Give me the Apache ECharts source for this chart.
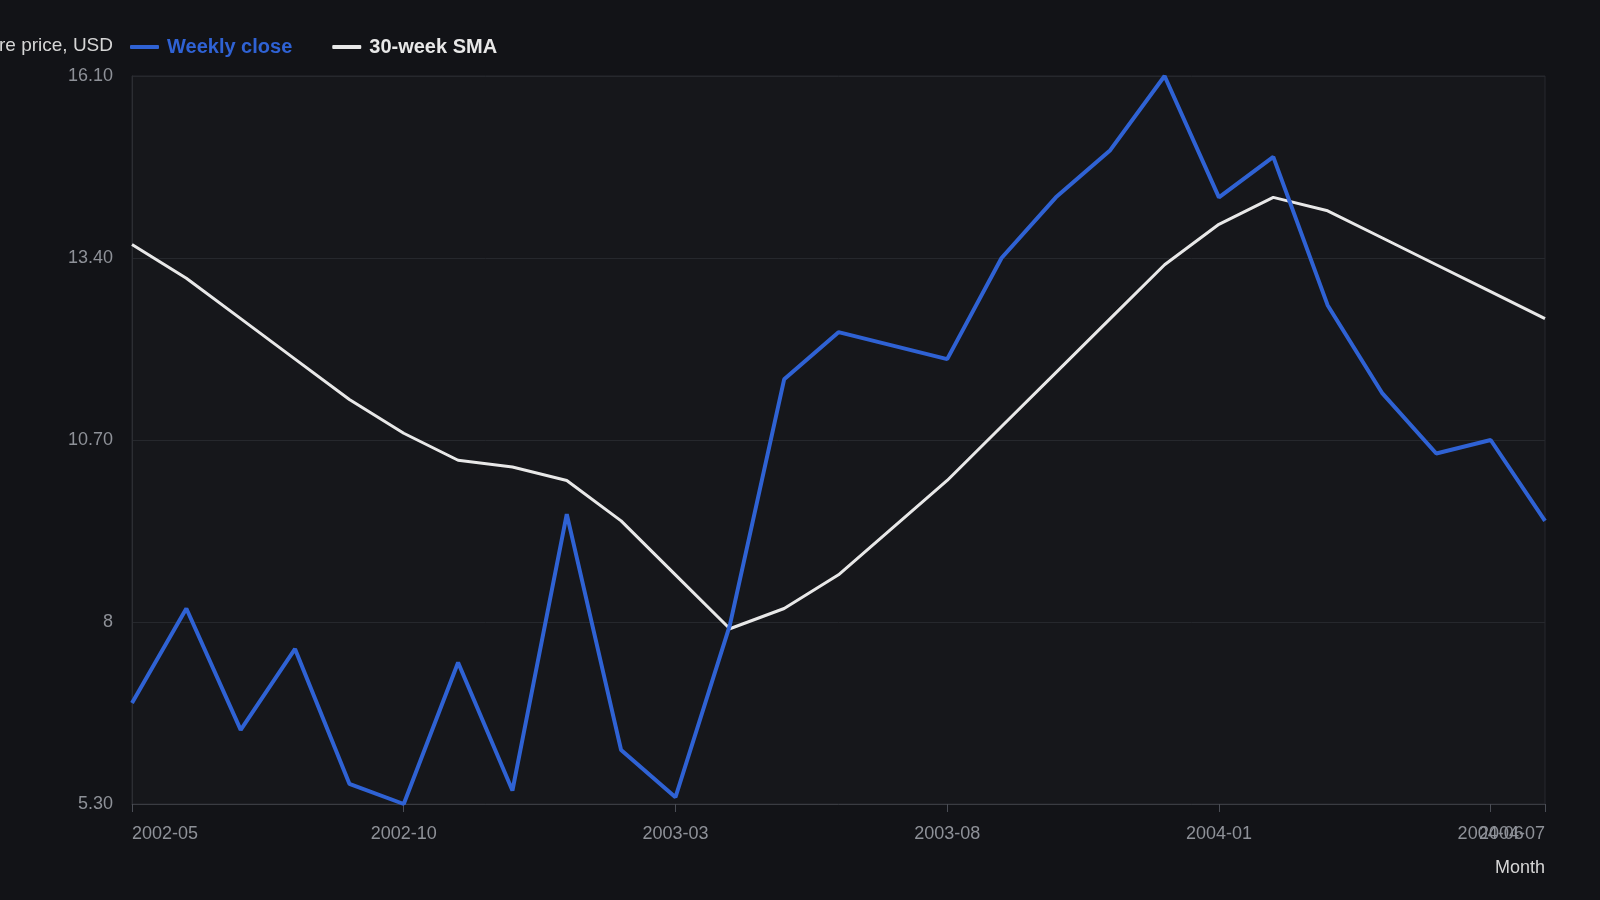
<!DOCTYPE html>
<html>
<head>
<meta charset="utf-8">
<script src="https://cdn.jsdelivr.net/npm/echarts@6/dist/echarts.min.js"></script>
<style>
html,body{margin:0;padding:0;background:#121317;}
#chart{width:1600px;height:900px;}
</style>
</head>
<body>
<div id="chart"></div>
<script>
const months = ['2002-05','2002-06','2002-07','2002-08','2002-09','2002-10','2002-11','2002-12',
  '2003-01','2003-02','2003-03','2003-04','2003-05','2003-06','2003-07','2003-08','2003-09',
  '2003-10','2003-11','2003-12','2004-01','2004-02','2004-03','2004-04','2004-05','2004-06','2004-07'];
const weeklyClose = [6.8, 8.2, 6.4, 7.6, 5.6, 5.3, 7.4, 5.5, 9.6, 6.1, 5.4, 7.95, 11.6, 12.3, 12.1, 11.9,
  13.4, 14.3, 15.0, 16.1, 14.3, 14.9, 12.7, 11.4, 10.5, 10.7, 9.5];
const sma30 = [13.6, 13.1, 12.5, 11.9, 11.3, 10.8, 10.4, 10.3, 10.1, 9.5, 8.7, 7.9, 8.2, 8.7, 9.4, 10.1,
  10.9, 11.7, 12.5, 13.3, 13.9, 14.3, 14.1, 13.7, 13.3, 12.9, 12.5];
const yTickLabels = ['5.30', '8', '10.70', '13.40', '16.10'];
const yMin = 5.3, yMax = 16.1, yStep = 2.7;

const BLUE = '#2f62d4';
const WHITE = '#e8e8e8';

const lastIdx = months.length - 1;
const showLabel = function (i) { return i % 5 === 0 || i === lastIdx; };

const chart = echarts.init(document.getElementById('chart'));
chart.setOption({
  backgroundColor: '#121317',
  textStyle: { fontFamily: 'Liberation Sans, Arial, sans-serif' },
  animation: false,
  grid: {
    left: 132, right: 55, top: 76, bottom: 96,
    show: true, backgroundColor: '#16171b', borderColor: '#27292e', borderWidth: 1,
    containLabel: false, outerBoundsMode: 'none'
  },
  legend: {
    left: 130, top: 37, padding: 0,
    icon: 'roundRect',
    itemWidth: 29, itemHeight: 4, itemGap: 40,
    textStyle: { fontSize: 20, fontWeight: 'bold', padding: [0, 0, 0, 3] },
    data: [
      { name: 'Weekly close', textStyle: { color: BLUE } },
      { name: '30-week SMA', textStyle: { color: WHITE } }
    ]
  },
  xAxis: {
    type: 'category',
    data: months,
    boundaryGap: false,
    name: 'Month',
    nameLocation: 'end',
    nameGap: 0,
    nameTextStyle: { color: '#d6d6d6', fontSize: 18, align: 'right', verticalAlign: 'top', padding: [55, 0, 0, 0] },
    axisLine: { show: true, lineStyle: { color: '#3a3c42', width: 1 } },
    axisTick: { show: true, length: 8, interval: showLabel, lineStyle: { color: '#4a4d55' } },
    axisLabel: {
      interval: 0, hideOverlap: false,
      alignMinLabel: 'left', alignMaxLabel: 'right',
      color: '#8e9198', fontSize: 18, margin: 21,
      formatter: function (value, index) { return showLabel(index) ? value : ''; }
    },
    splitLine: { show: false }
  },
  yAxis: {
    type: 'value',
    min: yMin, max: yMax, interval: yStep,
    name: 'Share price, USD',
    nameLocation: 'end',
    nameGap: 21,
    nameTextStyle: { color: '#d6d6d6', fontSize: 19, align: 'right', padding: [0, 19, 0, 0] },
    axisLine: { show: true, lineStyle: { color: '#2c2e33' } },
    axisTick: { show: false },
    axisLabel: {
      color: '#8e9198', fontSize: 18, margin: 19,
      formatter: function (v) {
        const i = Math.round((v - yMin) / yStep);
        return yTickLabels[i] !== undefined ? yTickLabels[i] : '';
      }
    },
    splitLine: { show: true, lineStyle: { color: '#26282d', width: 1 } }
  },
  series: [
    {
      name: 'Weekly close', type: 'line', data: weeklyClose,
      symbol: 'none', lineStyle: { color: BLUE, width: 4 }, itemStyle: { color: BLUE }, z: 3
    },
    {
      name: '30-week SMA', type: 'line', data: sma30,
      symbol: 'none', lineStyle: { color: WHITE, width: 3 }, itemStyle: { color: WHITE }, z: 2
    }
  ]
});
</script>
</body>
</html>
